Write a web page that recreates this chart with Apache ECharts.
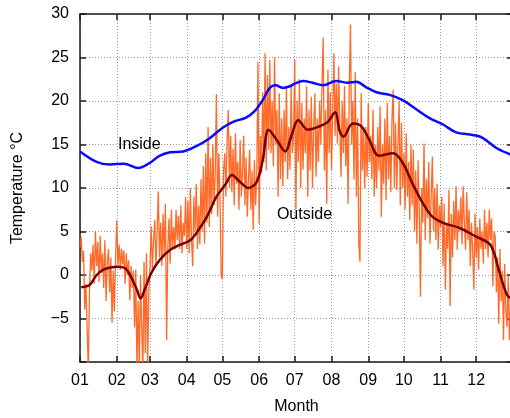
<!DOCTYPE html>
<html>
<head>
<meta charset="utf-8">
<script src="https://cdn.jsdelivr.net/npm/echarts@6/dist/echarts.min.js"></script>
<style>
  html, body { margin: 0; padding: 0; background: #fff; }
  #chart { width: 510px; height: 418px; }
</style>
</head>
<body>
<div id="chart"></div>
<script>
// Day-of-year where each month begins, and the tick text shown there
const monthStarts = [0, 31, 59, 90, 120, 151, 181, 212, 243, 273, 304, 334];
const monthLabels = ['01', '02', '03', '04', '05', '06', '07', '08', '09', '10', '11', '12'];

// Indoor temperature, smoothed (day of year, °C)
const insideDays = [0, 14, 25, 37, 49, 59, 67, 76, 87, 98, 109, 120, 129, 140, 147, 154, 160, 165, 171, 177, 181, 188, 196, 205, 216, 226, 233, 241, 250, 261, 272, 284, 295, 306, 317, 331, 339, 351, 362, 365];
const insideTemp = [14.2, 13.0, 12.7, 12.8, 12.3, 12.9, 13.7, 14.1, 14.2, 14.8, 15.7, 16.9, 17.6, 18.1, 18.8, 20.1, 21.5, 21.8, 21.5, 21.7, 22.0, 22.3, 22.1, 21.8, 22.3, 22.1, 22.2, 21.6, 21.0, 20.7, 20.1, 19.0, 18.0, 17.3, 16.4, 16.1, 15.8, 14.6, 13.9, 13.8];

// Outdoor temperature, smoothed (day of year, °C)
const outsideSmoothDays = [1, 8, 14, 20, 31, 38, 43, 48, 51, 55, 60, 67, 76, 84, 93, 98, 107, 115, 123, 128, 135, 142, 149, 154, 159, 166, 173, 178, 184, 192, 202, 209, 215, 219, 222, 230, 237, 244, 252, 264, 272, 281, 289, 297, 306, 320, 334, 346, 353, 360, 365];
const outsideSmoothTemp = [-1.4, -1.15, 0.0, 0.65, 0.95, 0.77, -0.2, -1.7, -2.7, -1.5, 0.2, 1.7, 2.9, 3.45, 4.0, 4.8, 6.7, 9.0, 10.5, 11.5, 10.7, 10.0, 10.7, 13.2, 16.7, 15.5, 14.2, 15.9, 17.8, 16.7, 17.1, 17.6, 18.7, 16.5, 15.9, 17.4, 17.1, 15.5, 13.7, 14.0, 12.9, 10.3, 8.25, 6.7, 6.0, 5.4, 4.4, 3.45, 0.6, -2.3, -2.8];

// Outdoor temperature, one reading per day (°C)
const outsideDaily = [
  3.2, 4.4, 1.5, 2.8, -4.0, -1.0, -6.0, -11.0, -2.0, 2.5,
  0.5, 3.5, -1.0, 5.0, 1.0, 3.8, -0.8, 4.5, 0.2, 2.5,
  -1.5, 4.0, -3.0, 1.5, 3.0, -2.0, 2.0, -5.5, 0.5, -4.2,
  2.0, 6.3, 1.0, 3.5, 0.6, 3.0, 1.2, 2.8, -1.0, 2.5,
  0.0, 1.7, -2.9, 1.0, -1.5, 0.5, -6.0, 0.6, -11.0, -3.0,
  -11.0, 0.0, -6.0, -11.0, 1.5, -9.0, 2.5, -11.0, -2.0, 1.0,
  5.6, 0.5, 4.0, 6.3, 1.0, 5.0, 9.6, 2.0, 6.0, 1.0,
  7.0, 2.5, 8.2, -7.5, 3.0, 6.5, 1.3, 7.5, 3.0, 5.5,
  2.9, 7.5, 4.0, 6.8, 3.0, 8.0, 2.5, 6.0, 4.5, 9.0,
  3.0, 8.5, 2.5, 10.0, 4.0, 1.0, 9.0, 5.0, 10.5, 3.0,
  8.0, 3.5, 11.0, 5.0, 12.5, 3.6, 14.0, 6.0, 17.0, 5.5,
  13.5, 7.0, 15.0, 8.0, 12.0, 20.8, 6.7, 14.0, 9.0, 0.0,
  -0.5, 12.0, 14.0, 9.0, 15.5, 19.0, 10.0, 16.0, 9.5, 14.5,
  8.0, 16.3, 10.5, 13.0, 7.5, 15.5, 9.0, 12.0, 16.0, 8.0,
  13.5, 6.7, 11.0, 14.4, 7.5, 12.0, 5.2, 13.2, 8.0, 11.5,
  24.5, 5.9, 16.0, 11.7, 21.0, 13.0, 25.5, 12.0, 23.0, 14.4,
  24.7, 14.0, 20.0, 12.5, 25.0, 15.0, 19.0, 9.0, 20.9, 11.0,
  18.0, 10.2, 19.0, 13.0, 21.5, 11.0, 17.0, 12.1, 21.7, 14.0,
  16.0, 24.7, 7.5, 20.0, 13.0, 22.5, 10.0, 19.8, 12.1, 18.0,
  14.0, 21.7, 9.0, 19.0, 12.0, 20.5, 10.0, 17.0, 20.9, 11.3,
  18.0, 13.0, 20.0, 15.0, 22.0, 27.3, 12.0, 19.0, 8.2, 23.6,
  14.0, 21.0, 12.1, 18.5, 25.5, 16.0, 22.0, 15.1, 24.0, 17.0,
  11.3, 20.0, 14.0, 21.7, 12.5, 18.0, 8.2, 22.0, 28.8, 15.0,
  20.0, 11.0, 23.3, 9.0, 18.0, 3.6, 1.5, 20.9, 12.0, 17.0,
  10.0, 17.0, 11.3, 19.8, 13.0, 16.0, 11.0, 19.0, 9.0, 15.0,
  10.0, 17.0, 12.0, 19.4, 6.7, 15.0, 10.5, 18.0, 8.6, 19.8,
  11.0, 16.0, 9.5, 18.0, 21.3, 10.0, 17.5, 9.8, 15.0, 20.0,
  8.0, 17.5, 10.0, 14.0, 7.5, 16.3, 9.0, 13.0, 6.3, 15.0,
  8.0, 14.4, 5.0, 12.0, 3.6, 13.2, 7.0, -2.5, 10.0, 6.0,
  15.1, 4.0, 11.0, 6.5, 13.0, 3.6, 9.0, 13.6, 5.0, 10.0,
  4.0, 10.5, 2.9, 8.0, 5.5, 9.0, 1.0, 8.2, -1.7, 6.0,
  3.0, 9.8, -3.6, 7.0, 2.0, 8.5, 4.0, 10.2, 2.9, 7.5,
  5.0, 9.0, 3.5, 10.2, 6.0, 2.9, 9.5, 4.0, 7.5, 1.0,
  6.0, 3.0, -1.7, 7.1, 2.0, 5.5, 0.6, 6.5, 3.0, 5.0,
  1.3, 7.5, 3.0, 6.0, 2.0, 7.5, 4.0, 6.5, -1.3, 5.0,
  4.4, -2.0, 2.0, -5.6, 3.0, -3.0, 0.5, -7.5, 1.3, -4.0,
  -6.0, 0.0, -7.5, -3.0, -5.0
];

const FONT = '"Liberation Sans", Arial, Helvetica, sans-serif';
const pairs = (xs, ys) => xs.map((x, i) => [x, ys[i]]);

const chart = echarts.init(document.getElementById('chart'), null, { renderer: 'canvas' });

const frameLine = { show: true, onZero: false, lineStyle: { color: '#1a1a1a', width: 1.5 } };
const tickStyle = { color: '#1a1a1a', width: 1.5 };
const gridDots = { show: true, lineStyle: { color: '#9a9a9a', width: 1, type: [1, 2] } };

chart.setOption({
  animation: false,
  backgroundColor: '#ffffff',
  grid: { left: 80, right: -3, top: 14, bottom: 56, containLabel: false, outerBoundsMode: 'none' },
  xAxis: [
    {
      type: 'value', min: 0, max: 365, position: 'bottom',
      name: 'Month', nameLocation: 'middle', nameGap: 37,
      nameTextStyle: { fontFamily: FONT, fontSize: 16, color: '#000' },
      axisLine: frameLine,
      axisTick: { show: true, inside: true, length: 6, customValues: monthStarts, lineStyle: tickStyle },
      axisLabel: {
        customValues: monthStarts, margin: 11, fontFamily: FONT, fontSize: 16, color: '#000',
        formatter: v => monthLabels[monthStarts.indexOf(v)] || ''
      },
      splitLine: gridDots
    },
    {
      type: 'value', min: 0, max: 365, position: 'top',
      axisLine: frameLine,
      axisTick: { show: true, inside: true, length: 6, customValues: monthStarts, lineStyle: tickStyle },
      axisLabel: { show: false },
      splitLine: { show: false }
    }
  ],
  yAxis: [
    {
      type: 'value', min: -10, max: 30, interval: 5, position: 'left',
      name: 'Temperature °C', nameLocation: 'middle', nameGap: 54, nameRotate: 90,
      nameTextStyle: { fontFamily: FONT, fontSize: 16, color: '#000' },
      axisLine: frameLine,
      axisTick: { show: true, inside: true, length: 6, lineStyle: tickStyle },
      axisLabel: {
        margin: 11, fontFamily: FONT, fontSize: 16, color: '#000',
        formatter: v => (v === -10 ? '' : String(v).replace('-', '\u2212'))
      },
      splitLine: gridDots
    },
    {
      type: 'value', min: -10, max: 30, interval: 5, position: 'right',
      axisLine: frameLine,
      axisTick: { show: true, inside: true, length: 6, lineStyle: tickStyle },
      axisLabel: { show: false },
      splitLine: { show: false }
    }
  ],
  series: [
    {
      name: 'Outside daily', type: 'line', xAxisIndex: 0, yAxisIndex: 0,
      data: outsideDaily.map((v, d) => [d, v]),
      showSymbol: false, symbol: 'none', clip: true,
      lineStyle: { color: '#ff5a12', width: 1.3, opacity: 0.9 },
      z: 2
    },
    {
      name: 'Outside', type: 'line', xAxisIndex: 0, yAxisIndex: 0,
      data: pairs(outsideSmoothDays, outsideSmoothTemp),
      smooth: 0.35, showSymbol: false, symbol: 'none', clip: true,
      lineStyle: { color: '#780000', width: 2.5 },
      z: 3
    },
    {
      name: 'Inside', type: 'line', xAxisIndex: 0, yAxisIndex: 0,
      data: pairs(insideDays, insideTemp),
      smooth: 0.35, showSymbol: false, symbol: 'none', clip: true,
      lineStyle: { color: '#0a0aff', width: 2.5 },
      z: 4
    }
  ]
});

// Curve labels placed in data coordinates
const insideAt = chart.convertToPixel({ xAxisIndex: 0, yAxisIndex: 0 }, [32, 15.0]);
const outsideAt = chart.convertToPixel({ xAxisIndex: 0, yAxisIndex: 0 }, [166, 7.0]);
chart.setOption({
  graphic: [
    { type: 'text', x: insideAt[0], y: insideAt[1], z: 10,
      style: { text: 'Inside', fill: '#000', font: '16px ' + FONT, align: 'left', verticalAlign: 'middle' } },
    { type: 'text', x: outsideAt[0], y: outsideAt[1], z: 10,
      style: { text: 'Outside', fill: '#000', font: '16px ' + FONT, align: 'left', verticalAlign: 'middle' } }
  ]
});
</script>
</body>
</html>
